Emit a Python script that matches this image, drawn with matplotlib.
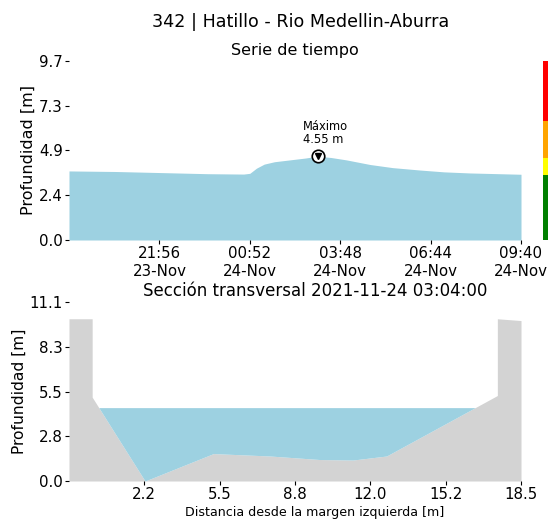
import matplotlib.pyplot as plt
import matplotlib.dates as mdates
import numpy as np
import pandas as pd

# Serie de tiempo (profundidad en m)
horas = ['2021-11-23 19:00', '2021-11-23 20:30', '2021-11-23 22:00', '2021-11-23 23:30',
         '2021-11-24 00:40', '2021-11-24 00:52', '2021-11-24 01:05', '2021-11-24 01:20',
         '2021-11-24 01:40', '2021-11-24 02:10', '2021-11-24 02:40', '2021-11-24 03:04',
         '2021-11-24 03:30', '2021-11-24 04:00', '2021-11-24 04:46', '2021-11-24 05:30',
         '2021-11-24 06:23', '2021-11-24 07:10', '2021-11-24 08:01', '2021-11-24 09:40']
profundidad = [3.75, 3.72, 3.66, 3.60, 3.58, 3.62, 3.90, 4.12, 4.25, 4.35, 4.45, 4.55,
               4.48, 4.35, 4.10, 3.93, 3.80, 3.70, 3.64, 3.57]

# Niveles de alerta
niveles = [0.0, 3.54, 4.46, 6.44, 9.72]
colores_niveles = ['green', 'yellow', 'orange', 'red']

# Sección transversal
distancia = [-1.0, 0.0, 0.0, 2.28, 5.23, 7.67, 9.83, 11.25, 12.7, 17.48, 17.48, 18.5]
fondo = [10.06, 10.06, 5.2, 0.0, 1.70, 1.55, 1.33, 1.30, 1.55, 5.3, 10.06, 9.95]
nivel_agua = 4.55

azul = '#9dd1e1'
gris = '#d3d3d3'

t = pd.to_datetime(horas)
prof = np.array(profundidad)

fig = plt.figure(figsize=(5.48, 5.23), dpi=100)
fig.text(301 / 548, 1 - 22 / 523, '342 | Hatillo - Rio Medellin-Aburra',
         ha='center', va='center', fontsize=12.6)

# --- serie de tiempo ---
ax1 = fig.add_axes([69 / 548, 1 - 240 / 523, 452 / 548, 179 / 523])
ax1.fill_between(t, 0, prof, color=azul, lw=0)
ax1.set_xlim(t[0], t[-1])
ax1.set_ylim(0, 9.72)
yt1 = np.linspace(0, 9.72, 5)
ax1.set_yticks(yt1)
ax1.set_yticklabels(['%.1f' % v for v in yt1])
xt = pd.date_range(t[0], t[-1], periods=6)[1:]
ax1.set_xticks(xt)
ax1.xaxis.set_major_formatter(mdates.DateFormatter('%H:%M\n%d-%b'))
ax1.set_ylabel('Profundidad [m]', fontsize=11.5, labelpad=2)
ax1.set_title('Serie de tiempo', fontsize=11.5, pad=4)
ax1.tick_params(labelsize=10.8, pad=1.5, length=3)
for s in ax1.spines.values():
    s.set_visible(False)

imax = int(np.argmax(prof))
ax1.plot(t[imax], prof[imax], 'o', ms=9, mfc='white', mec='black', mew=1.2)
ax1.plot(t[imax], prof[imax], 'v', ms=4.5, color='black')
ax1.annotate('Máximo\n%.2f m' % prof[imax], (t[imax], prof[imax]),
             xytext=(-15, 10), textcoords='offset pixels', fontsize=8.3,
             ha='left', va='bottom', linespacing=1.0)

# barra de niveles
axc = fig.add_axes([543 / 548, 1 - 240 / 523, 12 / 548, 179 / 523])
for i in range(len(colores_niveles)):
    axc.axhspan(niveles[i], niveles[i + 1], color=colores_niveles[i], lw=0)
axc.set_ylim(0, 9.72)
axc.set_xlim(0, 1)
axc.axis('off')

# --- sección transversal ---
ax2 = fig.add_axes([69 / 548, 1 - 481 / 523, 452 / 548, 179 / 523])
d = np.array(distancia)
f = np.array(fondo)
ax2.fill_between(d, 0, f, color=gris, lw=0)
ax2.fill_between(d, f, nivel_agua, where=f < nivel_agua, interpolate=True, color=azul, lw=0)
ax2.set_xlim(-1.0, 18.5)
ax2.set_ylim(0, 11.1)
xt2 = np.linspace(-1.0, 18.5, 7)[1:]
ax2.set_xticks(xt2)
ax2.set_xticklabels(['%.1f' % v for v in xt2])
yt2 = np.linspace(0, 11.1, 5)
ax2.set_yticks(yt2)
ax2.set_yticklabels(['%.1f' % v for v in yt2])
ax2.set_ylabel('Profundidad [m]', fontsize=11.2, labelpad=2)
ax2.set_xlabel('Distancia desde la margen izquierda [m]', fontsize=9.1, labelpad=3)
ax2.xaxis.label.set_x((315 - 69) / 452)
ax2.set_title('Sección transversal 2021-11-24 03:04:00', fontsize=12, pad=4)
ax2.title.set_x((315.5 - 69) / 452)
ax2.tick_params(labelsize=10.8, pad=1.5, length=3)
for s in ax2.spines.values():
    s.set_visible(False)

fig.savefig('out.png', dpi=100)
